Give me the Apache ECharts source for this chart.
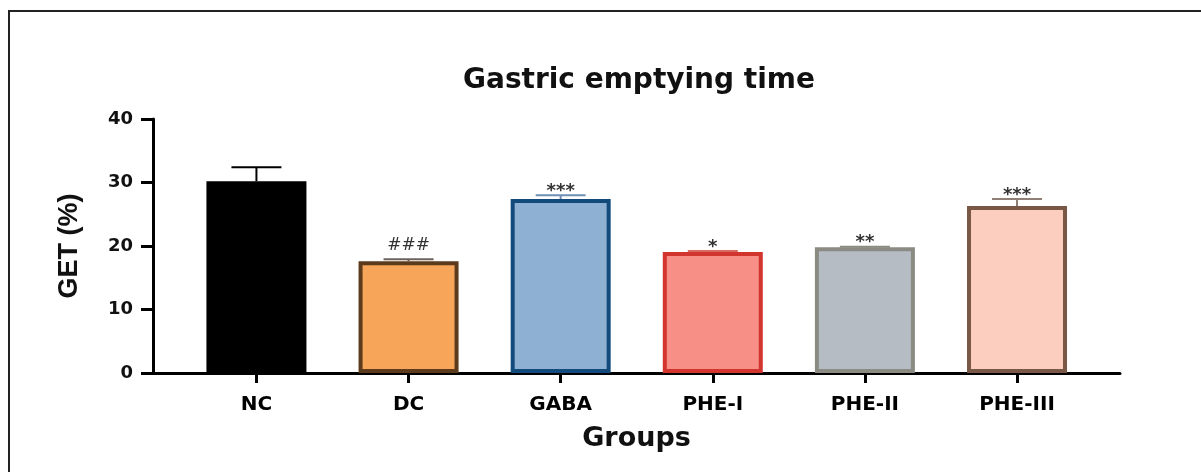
<!DOCTYPE html>
<html>
<head>
<meta charset="utf-8">
<script src="https://cdn.jsdelivr.net/npm/echarts@6/dist/echarts.min.js"></script>
<style>
html,body{margin:0;padding:0;background:#fff;}
#chart{width:1201px;height:472px;}
</style>
</head>
<body>
<div id="chart"></div>
<script>
const categories = ['NC', 'DC', 'GABA', 'PHE-I', 'PHE-II', 'PHE-III'];
const values = [30.2, 17.6, 27.4, 19.05, 19.8, 26.3];
const errorTops = [32.4, 17.9, 28.0, 19.2, 19.9, 27.4];
const significance = ['', '###', '***', '*', '**', '***'];
const yTicks = [0, 10, 20, 30, 40];

const fills = ['#000000', '#F7A558', '#8DB0D3', '#F78F87', '#B5BCC3', '#FBCEBF'];
const borders = ['#000000', '#5B3B1C', '#134A7C', '#D2352E', '#8B8B83', '#7A5848'];
const errColors = ['#000000', '#6E6258', '#6F8FB5', '#D86A63', '#8B8B83', '#8F7F77'];

const chart = echarts.init(document.getElementById('chart'));
const positions = categories.map((c, i) => i);

const option = {
  backgroundColor: '#ffffff',
  animation: false,
  graphic: [{
    type: 'rect',
    shape: { x: 9, y: 11, width: 1400, height: 700 },
    style: { fill: 'none', stroke: '#222', lineWidth: 2 },
    z: 0
  }],
  title: {
    text: 'Gastric emptying time',
    left: 458,
    top: 62,
    textStyle: { fontFamily: 'DejaVu Sans', fontWeight: 'bold', fontSize: 28, color: '#111' }
  },
  grid: { left: 153, right: 81, top: 119, bottom: 99 },
  xAxis: {
    type: 'value',
    min: -0.68,
    max: 5.677,
    splitLine: { show: false },
    axisLine: { show: true, onZero: false, lineStyle: { color: '#000', width: 3 } },
    axisTick: { show: true, customValues: positions, length: 10, lineStyle: { color: '#000', width: 3 } },
    axisLabel: {
      customValues: positions,
      formatter: v => categories[Math.round(v)],
      fontFamily: 'DejaVu Sans', fontWeight: 'bold', fontSize: 20, color: '#000', margin: 22
    },
    name: 'Groups',
    nameLocation: 'middle',
    nameGap: 52,
    nameTextStyle: { fontFamily: 'DejaVu Sans', fontWeight: 'bold', fontSize: 27, color: '#111' }
  },
  yAxis: {
    type: 'value',
    min: 0,
    max: 40,
    interval: 10,
    splitLine: { show: false },
    axisLine: { show: true, onZero: false, lineStyle: { color: '#000', width: 3 } },
    axisTick: { show: true, length: 12, lineStyle: { color: '#000', width: 3 } },
    axisLabel: { fontFamily: 'DejaVu Sans', fontWeight: 'bold', fontSize: 18, color: '#111', margin: 20 },
    name: 'GET (%)',
    nameLocation: 'middle',
    nameRotate: 90,
    nameGap: 70,
    nameTextStyle: { fontFamily: 'Liberation Sans', fontWeight: 'bold', fontSize: 27, color: '#111' }
  },
  series: [
    {
      type: 'bar',
      barWidth: 100,
      data: values.map((v, i) => ({
        value: [i, v],
        itemStyle: { color: fills[i], borderColor: borders[i], borderWidth: 4 }
      })),
      z: 2
    },
    {
      type: 'custom',
      data: values.map((v, i) => [i, v, errorTops[i]]),
      encode: { x: 0, y: [1, 2] },
      renderItem: function (params, api) {
        const i = api.value(0);
        const p0 = api.coord([i, api.value(1)]);
        const p1 = api.coord([i, api.value(2)]);
        const c = errColors[params.dataIndex];
        return {
          type: 'group',
          children: [
            { type: 'line', shape: { x1: p0[0], y1: p0[1], x2: p1[0], y2: p1[1] }, style: { stroke: c, lineWidth: 2 } },
            { type: 'line', shape: { x1: p1[0] - 25, y1: p1[1], x2: p1[0] + 25, y2: p1[1] }, style: { stroke: c, lineWidth: 2 } }
          ]
        };
      },
      z: 3
    },
    {
      type: 'custom',
      data: values.map((v, i) => [i, errorTops[i]]),
      encode: { x: 0, y: 1 },
      renderItem: function (params, api) {
        const p = api.coord([api.value(0), api.value(1)]);
        const s = significance[params.dataIndex];
        const isHash = s.indexOf('#') >= 0;
        return {
          type: 'text',
          x: p[0],
          y: p[1] - (isHash ? 14 : 4),
          style: {
            text: s,
            align: 'center',
            verticalAlign: 'middle',
            fontFamily: 'DejaVu Sans',
            fontSize: isHash ? 17 : 18,
            fontWeight: isHash ? 'normal' : 'bold',
            fill: '#333'
          }
        };
      },
      z: 4
    }
  ]
};
chart.setOption(option);
</script>
</body>
</html>
